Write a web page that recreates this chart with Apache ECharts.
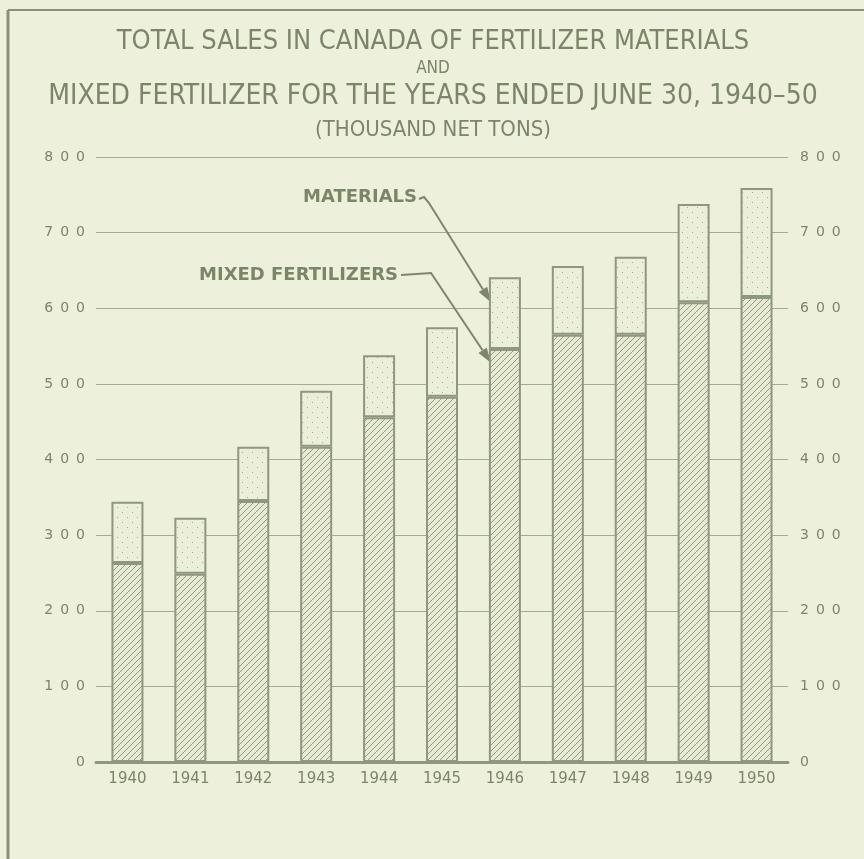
<!DOCTYPE html>
<html>
<head>
<meta charset="utf-8">
<title>Total sales in Canada of fertilizer materials and mixed fertilizer, 1940-50</title>
<script src="https://cdn.jsdelivr.net/npm/echarts@6.0.0/dist/echarts.min.js"></script>
<style>
  html, body { margin: 0; padding: 0; background: #edf0da; }
  #chart { width: 864px; height: 859px; }
</style>
</head>
<body>
<div id="chart"></div>
<script>
// years ended June 30
const years = ['1940', '1941', '1942', '1943', '1944', '1945', '1946', '1947', '1948', '1949', '1950']
// thousand net tons
const mixedFertilizers = [263, 249, 345, 417, 456, 483, 546, 565, 565, 608, 615]
const materials = [81, 74, 72, 74, 82, 92, 95, 91, 103, 130, 144]

const ink = '#7b8669'
const lineInk = '#8e977f'
const font = '"DejaVu Sans", sans-serif'

// hatch fill for mixed fertilizers
const makeHatch = () => {
  const c = document.createElement('canvas')
  c.width = 6
  c.height = 6
  const g = c.getContext('2d')
  g.fillStyle = '#e7ead3'
  g.fillRect(0, 0, 6, 6)
  g.strokeStyle = '#939c82'
  g.lineWidth = 1
  g.beginPath()
  g.moveTo(0, 6); g.lineTo(6, 0)
  g.moveTo(-1, 1); g.lineTo(1, -1)
  g.moveTo(5, 7); g.lineTo(7, 5)
  g.stroke()
  return c
}

// stipple fill for materials
const makeDots = () => {
  const c = document.createElement('canvas')
  c.width = 10
  c.height = 10
  const g = c.getContext('2d')
  g.fillStyle = '#ebeed8'
  g.fillRect(0, 0, 10, 10)
  g.fillStyle = '#a4ab94'
  g.fillRect(2, 2, 1, 1)
  g.fillRect(7, 7, 1, 1)
  return c
}

const spaced = v => String(v).split('').join('\u2002')

const chart = echarts.init(document.getElementById('chart'))

const barWidth = 32

const option = {
  backgroundColor: '#edf0da',
  animation: false,
  grid: { left: 96, right: 76, top: 157, bottom: 97 },
  xAxis: {
    type: 'category',
    data: years,
    axisLine: { show: true, lineStyle: { color: lineInk, width: 3 } },
    axisTick: { show: false },
    axisLabel: { color: ink, fontFamily: font, fontSize: 15, margin: 10 }
  },
  yAxis: [
    {
      type: 'value',
      min: 0,
      max: 800,
      interval: 100,
      axisLine: { show: false },
      axisTick: { show: false },
      splitLine: { lineStyle: { color: '#a3ab92', width: 1 } },
      axisLabel: { color: ink, fontFamily: font, fontSize: 14, margin: 11, formatter: spaced }
    },
    {
      type: 'value',
      min: 0,
      max: 800,
      interval: 100,
      position: 'right',
      axisLine: { show: false },
      axisTick: { show: false },
      splitLine: { show: false },
      axisLabel: { color: ink, fontFamily: font, fontSize: 14, margin: 12, formatter: spaced }
    }
  ],
  series: [
    {
      name: 'MIXED FERTILIZERS',
      type: 'bar',
      stack: 'total',
      barWidth: barWidth,
      data: mixedFertilizers,
      itemStyle: { color: { image: makeHatch(), repeat: 'repeat' }, borderColor: lineInk, borderWidth: 2 }
    },
    {
      name: 'MATERIALS',
      type: 'bar',
      stack: 'total',
      barWidth: barWidth,
      data: materials,
      itemStyle: { color: { image: makeDots(), repeat: 'repeat' }, borderColor: lineInk, borderWidth: 2 }
    }
  ]
}

chart.setOption(option)

// leader line with an arrow head at the last point
const arrow = (pts, id) => {
  const [x1, y1] = pts[pts.length - 2]
  const [x2, y2] = pts[pts.length - 1]
  const len = Math.hypot(x2 - x1, y2 - y1)
  const ux = (x2 - x1) / len
  const uy = (y2 - y1) / len
  const hl = 15
  const hw = 5
  const bx = x2 - ux * hl
  const by = y2 - uy * hl
  return [
    { type: 'polyline', id: id + '-l', silent: true, shape: { points: pts.slice(0, -1).concat([[bx, by]]) }, style: { stroke: '#7d876b', lineWidth: 2, fill: null } },
    {
      type: 'polygon',
      id: id + '-h',
      silent: true,
      shape: { points: [[x2, y2], [bx - uy * hw, by + ux * hw], [bx + uy * hw, by - ux * hw]] },
      style: { fill: '#7d876b' }
    }
  ]
}

// arrows point at the left edge of the 1946 bar
const [cx, yMat] = chart.convertToPixel({ xAxisIndex: 0, yAxisIndex: 0 }, ['1946', 608])
const yMix = chart.convertToPixel({ yAxisIndex: 0 }, 528)
const tipX = cx - barWidth / 2 + 2

const titleText = (text, y, size) => ({
  type: 'text',
  silent: true,
  x: 433,
  y: y,
  style: { text: text, fill: ink, font: size + 'px "DejaVu Sans Condensed", "DejaVu Sans", sans-serif', align: 'center', verticalAlign: 'middle' }
})

const noteFont = 'bold 18px "DejaVu Sans", sans-serif'

chart.setOption({
  graphic: [
    // frame
    { type: 'line', silent: true, shape: { x1: 8, y1: 10, x2: 8, y2: 859 }, style: { stroke: '#8a9179', lineWidth: 3 } },
    { type: 'line', silent: true, shape: { x1: 8, y1: 10, x2: 864, y2: 10 }, style: { stroke: '#8a9179', lineWidth: 2 } },
    titleText('TOTAL SALES IN CANADA OF FERTILIZER MATERIALS', 42, 27),
    titleText('AND', 69, 17),
    titleText('MIXED FERTILIZER FOR THE YEARS ENDED JUNE 30, 1940\u201350', 97, 28),
    titleText('(THOUSAND NET TONS)', 130, 22),
    {
      type: 'text', silent: true, x: 417, y: 197,
      style: { text: 'MATERIALS', fill: ink, font: noteFont, align: 'right', verticalAlign: 'middle' }
    },
    {
      type: 'text', silent: true, x: 398, y: 275,
      style: { text: 'MIXED FERTILIZERS', fill: ink, font: noteFont, align: 'right', verticalAlign: 'middle' }
    },
    ...arrow([[419, 199], [424, 197], [429, 203], [tipX, yMat]], 'mat'),
    ...arrow([[401, 275], [431, 273], [tipX, yMix]], 'mix')
  ]
})
</script>
</body>
</html>
